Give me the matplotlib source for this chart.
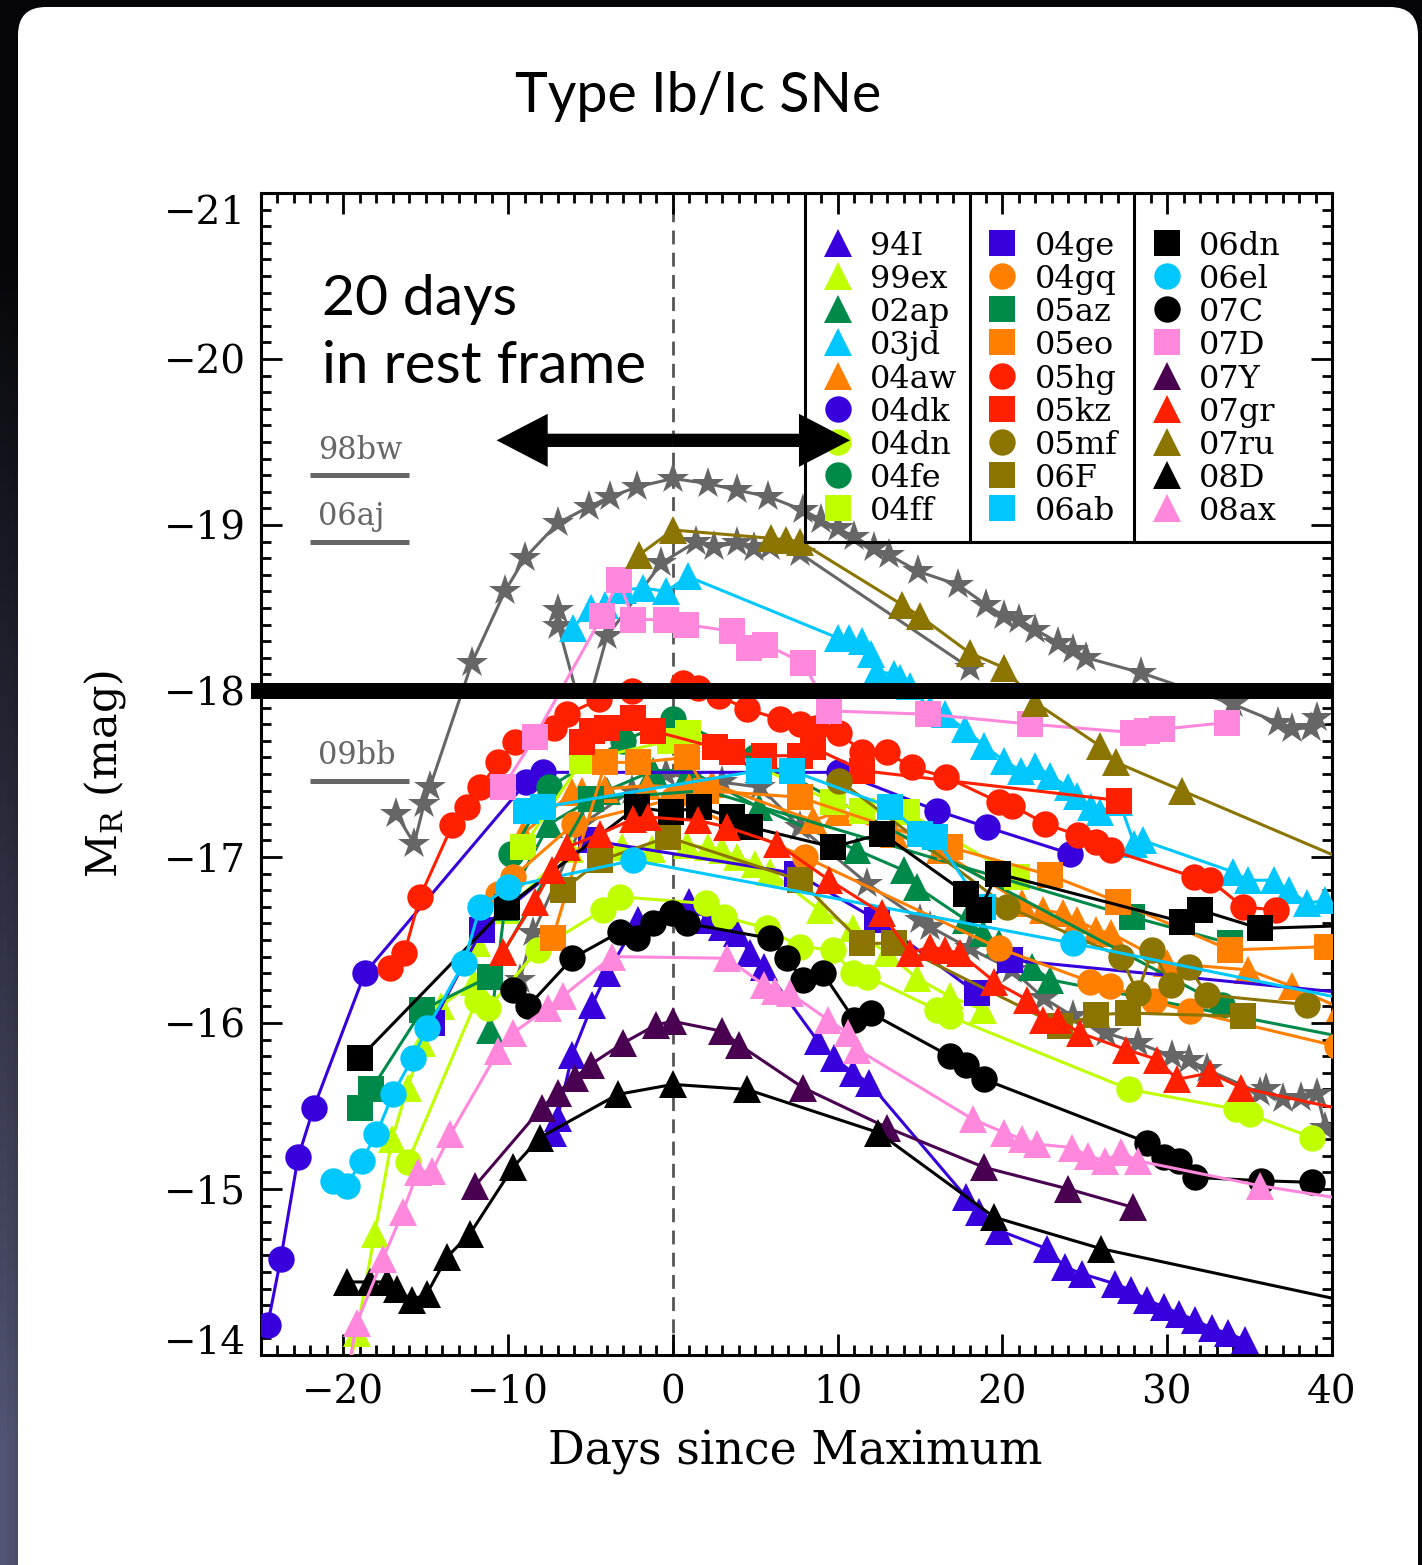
import numpy as np
import matplotlib
matplotlib.use('Agg')
import matplotlib.pyplot as plt
from matplotlib.patches import FancyBboxPatch, FancyArrow
from matplotlib.transforms import IdentityTransform, ScaledTranslation
from matplotlib.ticker import MultipleLocator

plt.rcParams['font.family'] = ['DejaVu Serif']

# colours
BLUE = '#3700dc'
LIME = '#bfff00'
GREEN = '#008a4a'
CYAN = '#00c8ff'
ORANGE = '#ff8000'
RED = '#ff2000'
OLIVE = '#8b7500'
PINK = '#ff88dd'
PURPLE = '#4a0050'
BLACK = '#000000'
GREY = '#666666'

# ---- light curves (days since maximum, M_R) ----
t_98bw = [-16.8, -15.7, -15.1, -14.75, -12.2, -10.2, -9.0, -7.0, -5.1, -3.8, -2.15, 0.0, 2.1, 3.9,
          5.8, 7.9, 9.0, 10.0, 11.0, 12.2, 13.1, 14.9, 17.3, 19.0, 20.1, 21.0, 22.0, 23.4, 24.3,
          25.1, 28.4, 34.0, 36.7, 37.6, 38.7, 39.1]
m_98bw = [-17.26, -17.08, -17.32, -17.42, -18.17, -18.60, -18.80, -19.01, -19.11, -19.17, -19.23,
          -19.28, -19.25, -19.21, -19.17, -19.09, -19.03, -18.98, -18.93, -18.86, -18.82, -18.72,
          -18.64, -18.52, -18.45, -18.43, -18.37, -18.29, -18.25, -18.20, -18.11, -17.92, -17.81,
          -17.77, -17.78, -17.84]

t_06aj = [-7.0, -6.95, -5.8, -5.0, -4.0, -0.7, 1.4, 2.5, 3.9, 4.9, 5.9, 7.7, 18.0]
m_06aj = [-18.49, -18.39, -17.97, -17.97, -18.33, -18.77, -18.90, -18.87, -18.89, -18.86, -18.87,
          -18.83, -18.14]

t_09bb = [-9.3, -8.5, -5.5, -2.5, -0.4, 1.0, 3.0, 5.3, 7.7, 11.8, 15.0, 15.6, 18.0, 20.6, 22.5,
          24.3, 26.3, 28.2, 30.3, 31.3, 32.4, 35.6, 36.0, 37.0, 38.1, 39.1, 39.6]
m_09bb = [-16.26, -16.54, -17.20, -17.40, -17.50, -17.48, -17.45, -17.42, -17.18, -16.84, -16.62,
          -16.58, -16.45, -16.32, -16.15, -16.04, -15.94, -15.88, -15.80, -15.78, -15.72, -15.58,
          -15.60, -15.54, -15.55, -15.57, -15.37]

t_94I = [-7.3, -7.0, -6.1, -4.9, -4.0, -2.1, 1.0, 2.1, 3.0, 3.9, 4.7, 5.5, 8.8, 9.8, 10.9, 11.9,
         17.8, 18.6, 19.8, 22.7, 23.8, 24.8, 26.8, 27.8, 28.8, 29.8, 30.7, 31.7, 32.7, 33.7, 34.7]
m_94I = [-15.34, -15.43, -15.81, -16.11, -16.30, -16.62, -16.73, -16.62, -16.58, -16.54, -16.42,
         -16.34, -15.89, -15.79, -15.70, -15.64, -14.95, -14.86, -14.75, -14.64, -14.53, -14.49,
         -14.43, -14.39, -14.33, -14.29, -14.25, -14.21, -14.16, -14.13, -14.09]

t_99ex = [-19.7, -19.2, -18.1, -17.05, -16.1, -15.2, -14.1, -12.1, -11.9, -10.1, -6.25, -3.1,
          -1.3, 0.85, 2.1, 3.0, 3.9, 5.0, 5.9, 8.9, 10.9, 13.0, 14.8, 16.8, 18.8]
m_99ex = [-13.90, -14.13, -14.73, -15.30, -15.61, -15.88, -16.10, -16.25, -16.48, -16.68, -17.05,
          -17.06, -17.05, -17.07, -17.06, -17.04, -17.00, -16.96, -16.91, -16.68, -16.57, -16.42,
          -16.27, -16.16, -16.08]

t_02ap = [-11.1, -10.2, -7.5, -4.0, -1.2, 1.0, 5.2, 11.2, 14.0, 14.8, 17.8, 18.8, 19.8, 21.8,
          22.9, 42.0]
m_02ap = [-15.96, -16.70, -17.20, -17.40, -17.52, -17.52, -17.30, -17.04, -16.92, -16.82, -16.62,
          -16.54, -16.48, -16.34, -16.26, -15.89]

t_03jd = [-6.07, -5.0, -4.1, -3.0, -1.8, -0.4, 0.9, 10.0, 10.7, 11.5, 12.0, 12.4, 13.4, 13.8,
          14.4, 15.6, 16.5, 17.7, 18.9, 20.1, 21.1, 22.0, 22.9, 24.0, 24.5, 25.4, 25.9, 27.1, 28.0,
          28.5, 34.0, 34.9, 36.5, 37.4, 38.5, 39.6]
m_03jd = [-18.38, -18.50, -18.52, -18.61, -18.62, -18.60, -18.69, -18.32, -18.32, -18.30, -18.22,
          -18.12, -18.10, -18.08, -18.03, -17.89, -17.86, -17.77, -17.67, -17.58, -17.52, -17.55,
          -17.49, -17.42, -17.37, -17.30, -17.27, -17.33, -17.08, -17.10, -16.91, -16.86, -16.86,
          -16.80, -16.72, -16.74]

t_04aw = [-9.1, -6.1, -5.5, -4.1, -1.6, 1.0, 2.4, 8.5, 10.0, 13.4, 16.2, 21.2, 22.45, 23.7, 24.5,
          25.7, 26.6, 30.0, 34.9, 37.6, 40.5]
m_04aw = [-17.14, -17.39, -17.40, -17.41, -17.43, -17.42, -17.44, -17.22, -17.27, -17.14, -17.04,
          -16.72, -16.68, -16.66, -16.62, -16.56, -16.54, -16.36, -16.32, -16.22, -16.09]

t_04dk = [-24.6, -23.8, -22.75, -21.8, -18.7, -8.9, -7.9, 10.1, 16.0, 19.05, 24.1]
m_04dk = [-14.18, -14.58, -15.19, -15.49, -16.30, -17.45, -17.51, -17.51, -17.28, -17.18, -17.02]

t_04dn = [-16.1, -11.9, -11.2, -8.2, -4.25, -3.2, 2.0, 3.1, 5.7, 7.7, 9.7, 10.9, 11.8, 16.0, 16.8,
          27.7, 34.2, 35.0, 38.8]
m_04dn = [-15.16, -16.14, -16.09, -16.44, -16.68, -16.76, -16.72, -16.64, -16.57, -16.46, -16.44,
          -16.30, -16.28, -16.08, -16.04, -15.60, -15.48, -15.45, -15.31]

t_04fe = [-9.8, -7.5, -3.0, 0.0, 5.0, 33.3]
m_04fe = [-17.02, -17.42, -17.70, -17.83, -17.60, -16.11]

t_04ff = [-9.1, -5.5, -0.2, 0.9, 9.7, 11.5, 14.2, 20.9]
m_04ff = [-17.06, -17.58, -17.70, -17.75, -17.33, -17.28, -17.27, -16.88]

t_04ge = [-14.6, -11.6, -5.0, 7.5, 12.4, 18.45, 20.45, 42.0]
m_04ge = [-16.00, -16.56, -17.10, -16.90, -16.62, -16.18, -16.38, -16.17]

t_04gq = [-10.6, -9.7, -6.0, 0.0, 8.0, 19.8, 25.3, 26.5, 29.2, 31.4, 40.3]
m_04gq = [-16.78, -16.88, -17.20, -17.35, -17.00, -16.45, -16.25, -16.22, -16.13, -16.07, -15.86]

t_05az = [-19.0, -18.3, -15.2, -11.1, -5.0, 2.0, 27.85, 33.8]
m_05az = [-15.49, -15.60, -16.08, -16.28, -17.35, -17.40, -16.64, -16.48]

t_05eo = [-7.3, -4.1, -2.1, 0.85, 2.0, 7.7, 16.8, 22.9, 27.0, 33.8, 39.7]
m_05eo = [-16.51, -17.57, -17.57, -17.60, -17.40, -17.36, -17.06, -16.89, -16.73, -16.44, -16.46]

t_05hg = [-17.2, -16.3, -15.35, -13.4, -12.5, -11.7, -10.6, -9.6, -7.2, -6.4, -4.5, -2.5, 0.6, 1.5,
          2.8, 4.5, 6.5, 7.7, 8.7, 10.1, 11.5, 13.0, 14.5, 16.6, 19.8, 20.6, 22.6, 24.6, 25.7, 26.6,
          31.6, 32.6, 34.6, 36.6]
m_05hg = [-16.33, -16.42, -16.76, -17.19, -17.30, -17.42, -17.57, -17.69, -17.78, -17.86, -17.95,
          -18.00, -18.05, -18.02, -17.97, -17.89, -17.83, -17.80, -17.78, -17.75, -17.63, -17.63,
          -17.54, -17.48, -17.33, -17.31, -17.20, -17.13, -17.09, -17.04, -16.88, -16.86, -16.70,
          -16.68]

t_05kz = [-5.5, -4.9, -4.0, -2.4, -1.2, 2.55, 3.6, 5.5, 7.7, 8.5, 11.5, 27.1]
m_05kz = [-17.69, -17.76, -17.78, -17.84, -17.76, -17.66, -17.63, -17.61, -17.61, -17.66, -17.52,
          -17.34]

t_05mf = [10.1, 20.3, 27.2, 28.2, 29.1, 30.2, 31.3, 32.4, 38.5]
m_05mf = [-17.46, -16.70, -16.40, -16.18, -16.44, -16.23, -16.34, -16.17, -16.11]

t_06F = [-6.7, -4.4, -0.3, 7.7, 11.5, 13.4, 23.5, 25.7, 27.6, 34.6]
m_06F = [-16.80, -16.98, -17.12, -16.86, -16.48, -16.48, -15.98, -16.05, -16.06, -16.04]

t_06ab = [-8.9, -7.9, 5.2, 7.2, 13.2, 15.0, 15.9, 18.8]
m_06ab = [-17.28, -17.30, -17.52, -17.52, -17.30, -17.14, -17.12, -16.70]

t_06dn = [-19.0, -10.1, -2.2, -0.1, 1.6, 3.6, 4.7, 9.7, 12.7, 17.8, 18.6, 19.7, 30.9, 32.0, 35.6,
          42.0]
m_06dn = [-15.79, -16.70, -17.30, -17.27, -17.30, -17.24, -17.18, -17.06, -17.14, -16.78, -16.68,
          -16.90, -16.61, -16.68, -16.57, -16.59]

t_06el = [-20.6, -19.8, -18.9, -18.0, -17.0, -15.8, -14.9, -12.7, -11.7, -10.0, -2.4, 24.3, 42.0]
m_06el = [-15.05, -15.02, -15.17, -15.33, -15.57, -15.79, -15.97, -16.36, -16.70, -16.82, -16.98,
          -16.48, -16.12]

t_07C = [-9.7, -8.8, -6.1, -3.2, -2.2, -1.2, -0.05, 0.85, 5.9, 6.9, 7.9, 9.1, 11.0, 12.0, 16.8,
         17.8, 18.9, 28.8, 29.8, 30.7, 31.7, 35.7, 38.8]
m_07C = [-16.20, -16.10, -16.39, -16.55, -16.51, -16.60, -16.66, -16.60, -16.51, -16.39, -16.26,
         -16.30, -16.02, -16.06, -15.80, -15.75, -15.66, -15.28, -15.19, -15.17, -15.07, -15.05,
         -15.04]

t_07D = [-10.3, -8.4, -4.3, -3.3, -2.4, -0.4, 0.8, 3.6, 4.6, 5.6, 7.9, 9.5, 15.5, 21.7, 27.9, 28.8,
         29.7, 33.6]
m_07D = [-17.42, -17.72, -18.45, -18.67, -18.43, -18.43, -18.40, -18.36, -18.26, -18.28, -18.17,
         -17.88, -17.86, -17.80, -17.75, -17.76, -17.77, -17.81]

t_07Y = [-12.0, -7.95, -7.0, -5.95, -5.0, -3.0, -1.0, 0.0, 3.0, 4.0, 7.9, 13.0, 18.9, 24.0, 27.9]
m_07Y = [-15.02, -15.49, -15.58, -15.67, -15.75, -15.88, -15.99, -16.01, -15.95, -15.87, -15.61,
         -15.37, -15.13, -15.00, -14.89]

t_07gr = [-10.3, -8.4, -7.35, -6.4, -4.4, -2.4, -1.5, 1.5, 3.3, 6.3, 9.5, 12.7, 14.4, 15.6, 16.5,
          17.4, 19.5, 21.5, 22.45, 23.4, 24.7, 27.5, 29.4, 30.6, 32.6, 34.5, 42.0]
m_07gr = [-16.43, -16.73, -16.92, -17.06, -17.14, -17.23, -17.24, -17.22, -17.18, -17.08, -16.86,
          -16.66, -16.42, -16.46, -16.44, -16.42, -16.25, -16.14, -16.02, -16.02, -15.94, -15.84,
          -15.78, -15.66, -15.70, -15.61, -15.45]

t_07ru = [-2.05, 0.0, 5.95, 6.85, 7.7, 13.9, 15.0, 18.0, 20.1, 22.0, 25.9, 26.9, 30.9, 42.0]
m_07ru = [-18.82, -18.97, -18.92, -18.91, -18.90, -18.52, -18.45, -18.23, -18.14, -17.93, -17.67,
          -17.57, -17.40, -16.93]

t_08D = [-19.78, -18.39, -17.35, -16.75, -15.84, -14.93, -13.71, -12.32, -9.71, -8.07, -3.34, 0.0,
         4.49, 12.47, 19.5, 26.0, 42.0]
m_08D = [-14.44, -14.44, -14.44, -14.40, -14.33, -14.37, -14.59, -14.73, -15.13, -15.31, -15.57,
         -15.63, -15.60, -15.34, -14.83, -14.64, -14.30]

t_08ax = [-19.9, -19.2, -17.6, -16.4, -15.5, -14.6, -13.5, -10.6, -9.7, -7.6, -6.7, -3.7, 3.3, 5.5,
          6.2, 7.1, 9.4, 10.6, 11.2, 18.2, 20.1, 21.2, 22.1, 24.2, 25.2, 26.2, 27.2, 28.2, 35.6, 42.0]
m_08ax = [-13.80, -14.19, -14.58, -14.86, -15.10, -15.11, -15.33, -15.83, -15.94, -16.09, -16.16,
          -16.40, -16.39, -16.23, -16.19, -16.18, -16.02, -15.94, -15.84, -15.42, -15.34, -15.30,
          -15.27, -15.25, -15.20, -15.17, -15.22, -15.17, -15.02, -14.92]

# legend entries: name, marker, colour, data
sne = [
    ('94I', '^', BLUE, t_94I, m_94I), ('99ex', '^', LIME, t_99ex, m_99ex),
    ('02ap', '^', GREEN, t_02ap, m_02ap), ('03jd', '^', CYAN, t_03jd, m_03jd),
    ('04aw', '^', ORANGE, t_04aw, m_04aw), ('04dk', 'o', BLUE, t_04dk, m_04dk),
    ('04dn', 'o', LIME, t_04dn, m_04dn), ('04fe', 'o', GREEN, t_04fe, m_04fe),
    ('04ff', 's', LIME, t_04ff, m_04ff),
    ('04ge', 's', BLUE, t_04ge, m_04ge), ('04gq', 'o', ORANGE, t_04gq, m_04gq),
    ('05az', 's', GREEN, t_05az, m_05az), ('05eo', 's', ORANGE, t_05eo, m_05eo),
    ('05hg', 'o', RED, t_05hg, m_05hg), ('05kz', 's', RED, t_05kz, m_05kz),
    ('05mf', 'o', OLIVE, t_05mf, m_05mf), ('06F', 's', OLIVE, t_06F, m_06F),
    ('06ab', 's', CYAN, t_06ab, m_06ab),
    ('06dn', 's', BLACK, t_06dn, m_06dn), ('06el', 'o', CYAN, t_06el, m_06el),
    ('07C', 'o', BLACK, t_07C, m_07C), ('07D', 's', PINK, t_07D, m_07D),
    ('07Y', '^', PURPLE, t_07Y, m_07Y), ('07gr', '^', RED, t_07gr, m_07gr),
    ('07ru', '^', OLIVE, t_07ru, m_07ru), ('08D', '^', BLACK, t_08D, m_08D),
    ('08ax', '^', PINK, t_08ax, m_08ax),
]
msize = {'^': 20, 'o': 19, 's': 19}

# GRB-SNe shown as grey stars, with their peak reference bars
grb_names = ['98bw', '06aj', '09bb']
grb_peaks = [-19.30, -18.90, -17.46]

# ---- figure ----
W, H = 1422, 1565
fig = plt.figure(figsize=(W / 100, H / 100), dpi=100)
fig.patch.set_facecolor('#040406')

# dark backdrop with a slate tint towards the lower left
bg = fig.add_axes([0, 0, 1, 1], zorder=-20)
yy, xx = np.mgrid[0:1:200j, 0:1:200j]
tint = np.clip(yy * 1.3 - 0.2, 0, 1) * np.clip(1 - xx * 8, 0, 1)
img = np.zeros((200, 200, 3))
img[..., 0] = 0.02 + 0.30 * tint
img[..., 1] = 0.02 + 0.31 * tint
img[..., 2] = 0.03 + 0.42 * tint
bg.imshow(img, extent=[0, 1, 1, 0], aspect='auto')
bg.set_axis_off()

card = FancyBboxPatch((18, -60), 1400, H - 7 + 60, boxstyle='round,pad=0,rounding_size=28',
                      transform=IdentityTransform(), fc='white', ec='none', zorder=-10)
fig.add_artist(card)

fig.text(698 / W, 1 - 97 / H, 'Type Ib/Ic SNe', ha='center', va='center', fontsize=40,
         family='Lato')

ax = fig.add_axes([261 / W, 210 / H, 1071 / W, 1162 / H])
ax.set_xlim(-25, 40)
ax.set_ylim(-14, -21)

# dashed line at maximum
ax.axvline(0, color='#555555', lw=2, ls=(0, (5, 3)), zorder=1)

# grey star curves
star_ms = 24
for t, m in [(t_98bw, m_98bw), (t_09bb, m_09bb)]:
    ax.plot(t, m, color=GREY, lw=2.2, marker='*', ms=star_ms, mew=0, zorder=2.5)
hidden = [2, 3]
ax.plot(t_06aj, m_06aj, color=GREY, lw=2.2, zorder=2.5)
ax.plot([t for i, t in enumerate(t_06aj) if i not in hidden],
        [m for i, m in enumerate(m_06aj) if i not in hidden],
        ls='none', color=GREY, marker='*', ms=star_ms, mew=0, zorder=2.5)

for name, mk, col, t, m in sne:
    ax.plot(t, m, color=col, lw=2.2, marker=mk, ms=msize[mk], mew=0, zorder=3)

# reference bars for the GRB-SNe
for name, pk in zip(grb_names, grb_peaks):
    ax.plot([-22.0, -16.0], [pk, pk], color=GREY, lw=3.6, solid_capstyle='butt', zorder=4)
    ax.text(-21.55, pk - 0.1, name, color=GREY, fontsize=22, va='baseline', ha='left', zorder=4)

# thick -18 mag line
ax.plot([-25.6, 40], [-18, -18], color='black', lw=11.5, solid_capstyle='butt',
        clip_on=False, zorder=8)

# legend block
leg_left, leg_bottom = 8.0, -18.9
ax.plot([leg_left, leg_left, 40], [-21, leg_bottom, leg_bottom], color='black', lw=2.2, zorder=4)
for sx in [18.0, 28.0]:
    ax.plot([sx, sx], [-21, leg_bottom], color='black', lw=2.2, zorder=4)
col_mark_x = [10.0, 20.0, 30.0]
col_text_x = [11.95, 21.95, 31.95]
for i, (name, mk, col, t, m) in enumerate(sne):
    c, r = divmod(i, 9)
    ry = -20.7 + 0.2 * r
    ax.plot(col_mark_x[c], ry, marker=mk, color=col, ms=msize[mk], mew=0, zorder=5)
    ax.text(col_text_x[c], ry, name, fontsize=23, va='center_baseline', ha='left', zorder=5)

# 20 days arrow
arrow_ends = [-10.7, 10.75]
for end in arrow_ends:
    ax.add_patch(FancyArrow(0, -19.51, end, 0, width=0.08, head_width=0.32, head_length=3.1,
                            length_includes_head=True, color='black', lw=0, zorder=9))
ax.text(-21.3, -20.265, '20 days', fontsize=41, family='Lato', va='baseline', ha='left')
ax.text(-21.3, -19.855, 'in rest frame', fontsize=42, family='Lato', va='baseline', ha='left')

# axes styling
ax.xaxis.set_major_locator(MultipleLocator(10))
ax.xaxis.set_minor_locator(MultipleLocator(1))
ax.yaxis.set_major_locator(MultipleLocator(1))
ax.yaxis.set_minor_locator(MultipleLocator(0.1))
ax.tick_params(which='both', direction='in', top=True, right=True, width=2, labelsize=28)
ax.tick_params(which='major', length=15)
ax.tick_params(which='minor', length=7)
ax.tick_params(axis='x', pad=14)
ax.tick_params(axis='y', pad=11)
for sp in ax.spines.values():
    sp.set_linewidth(2.2)

ax.set_xlabel('Days since Maximum', fontsize=33)
ax.set_ylabel(r'M$_\mathregular{R}$ (mag)', fontsize=31)
ax.xaxis.set_label_coords(0.4986, -0.064)
ax.yaxis.set_label_coords(-0.124, 0.5)

# the end labels sit inside the tick range, as in the original
fig.canvas.draw()
ylabels = ax.get_yticklabels()
for lab in ylabels:
    txt = lab.get_text()
    if txt.endswith('21'):
        lab.set_transform(lab.get_transform() + ScaledTranslation(0, -17 / 100, fig.dpi_scale_trans))
    elif txt.endswith('14'):
        lab.set_transform(lab.get_transform() + ScaledTranslation(0, 15 / 100, fig.dpi_scale_trans))

fig.savefig('out.png', dpi=100, facecolor=fig.get_facecolor())
